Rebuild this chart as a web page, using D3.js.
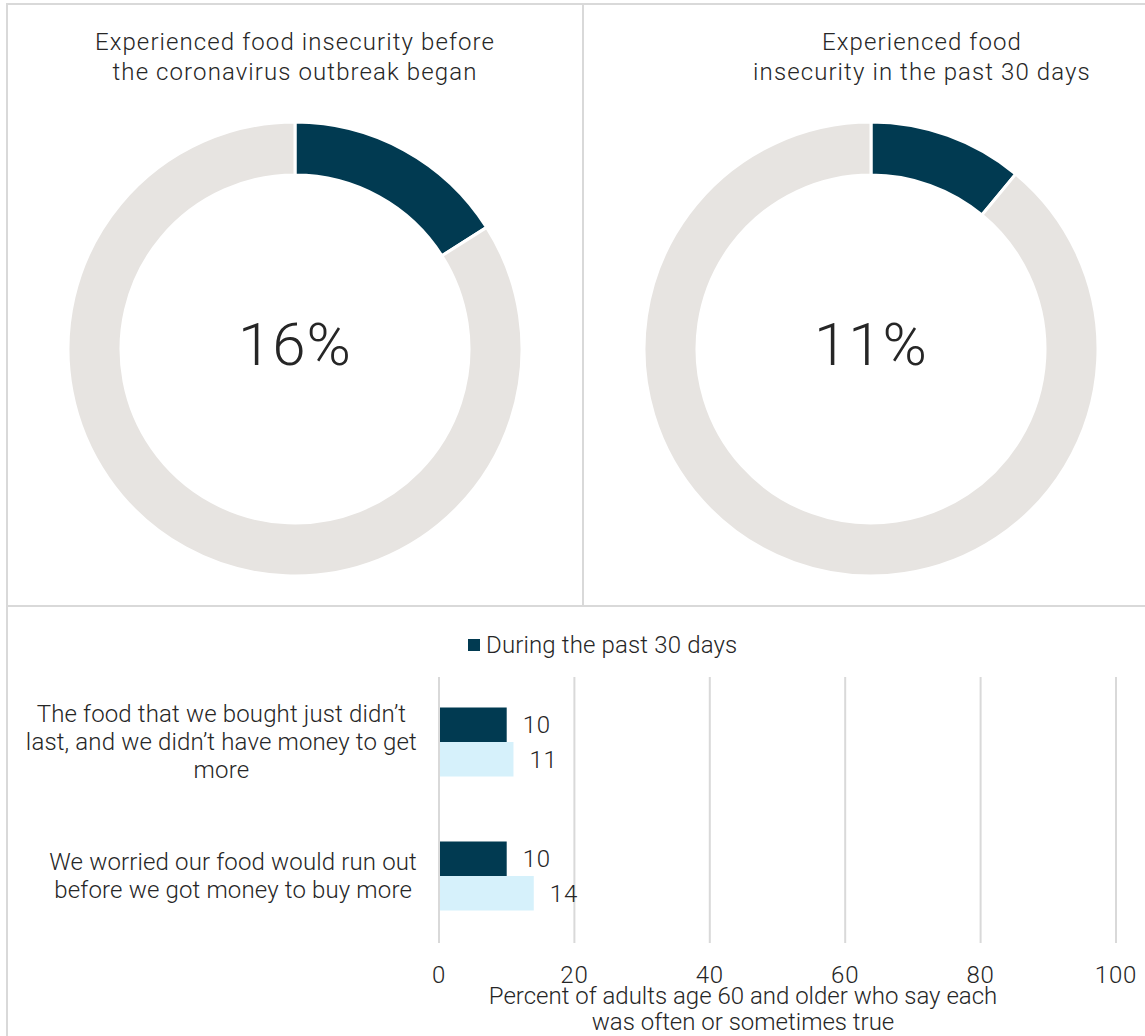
<!DOCTYPE html>
<html>
<head>
<meta charset="utf-8">
<script src="https://cdn.jsdelivr.net/npm/d3@7"></script>
<style>
  html, body { margin: 0; padding: 0; background: #ffffff; }
  svg { display: block; }
  text { font-family: Roboto, "Noto Sans", sans-serif; fill: #262626; }
</style>
</head>
<body>
<svg id="chart" width="1145" height="1036"></svg>
<script>
// ---- data ----
const donutTitles = [
  ["Experienced food insecurity before", "the coronavirus outbreak began"],
  ["Experienced food", "insecurity in the past 30 days"]
];
const donutValues = [16, 11];

const categoryLines = [
  ["The food that we bought just didn\u2019t", "last, and we didn\u2019t have money to get", "more"],
  ["We worried our food would run out", "before we got money to buy more"]
];
const seriesNames = ["During the past 30 days", "Before the coronavirus outbreak began"];
const pastMonth = [10, 10];
const beforeOutbreak = [11, 14];
const xTicks = [0, 20, 40, 60, 80, 100];
const axisTitleLines = ["Percent of adults age 60 and older who say each", "was often or sometimes true"];

// ---- styles ----
const DARK = "#013a51";
const LIGHT = "#d6f1fb";
const GREY = "#e7e4e1";
const RULE = "#d9d9d9";
const FONT = 24;

const svg = d3.select("#chart");

// ---- panel frame ----
const frame = svg.append("g").attr("stroke", RULE).attr("stroke-width", 2);
frame.append("line").attr("x1", 7).attr("x2", 7).attr("y1", 3).attr("y2", 1036);
frame.append("line").attr("x1", 6).attr("x2", 1145).attr("y1", 4).attr("y2", 4);
frame.append("line").attr("x1", 583).attr("x2", 583).attr("y1", 4).attr("y2", 606);
frame.append("line").attr("x1", 6).attr("x2", 1145).attr("y1", 606).attr("y2", 606);

// ---- donuts ----
const donutCenters = [[295, 349], [871, 349]];
const titleCenters = [295, 922];
const pie = d3.pie().sort(null);
const arc = d3.arc().innerRadius(174).outerRadius(227);

donutValues.forEach((v, i) => {
  const g = svg.append("g").attr("transform", `translate(${donutCenters[i]})`);
  g.selectAll("path")
    .data(pie([v, 100 - v]))
    .join("path")
    .attr("d", arc)
    .attr("fill", (d, j) => j === 0 ? DARK : GREY)
    .attr("stroke", "#ffffff")
    .attr("stroke-width", 3);
  g.append("text")
    .attr("text-anchor", "middle")
    .attr("y", 16)
    .attr("font-size", 60)
    .attr("font-weight", 300)
    .attr("letter-spacing", 1)
    .text(`${v}%`);

  const t = svg.append("text")
    .attr("text-anchor", "middle")
    .attr("font-size", FONT)
    .attr("font-weight", 300)
    .attr("letter-spacing", 1.1);
  donutTitles[i].forEach((line, k) => {
    t.append("tspan").attr("x", titleCenters[i]).attr("y", 50 + k * 30).text(line);
  });
});

// ---- bar chart ----
const x = d3.scaleLinear().domain([0, 100]).range([439, 1116]);
const y = d3.scaleBand().domain(d3.range(categoryLines.length)).range([675, 943]);
const barH = 34.5;

// gridlines
svg.append("g")
  .selectAll("line")
  .data(xTicks)
  .join("line")
  .attr("x1", d => x(d)).attr("x2", d => x(d))
  .attr("y1", 677).attr("y2", 943)
  .attr("stroke", RULE).attr("stroke-width", 2);

// tick labels
svg.append("g")
  .selectAll("text")
  .data(xTicks)
  .join("text")
  .attr("x", d => x(d))
  .attr("y", 983)
  .attr("text-anchor", "middle")
  .attr("font-size", FONT)
  .attr("font-weight", 300)
  .attr("letter-spacing", 0.8)
  .text(d => d);

// bars
const series = [pastMonth, beforeOutbreak];
const seriesColors = [DARK, LIGHT];
series.forEach((vals, s) => {
  const g = svg.append("g");
  g.selectAll("rect")
    .data(vals)
    .join("rect")
    .attr("x", x(0) + 1)
    .attr("y", (d, i) => y(i) + y.bandwidth() / 2 - barH + s * barH)
    .attr("width", d => x(d) - x(0) - 1)
    .attr("height", barH)
    .attr("fill", seriesColors[s]);
  g.selectAll("text")
    .data(vals)
    .join("text")
    .attr("x", d => x(d) + 16)
    .attr("y", (d, i) => y(i) + y.bandwidth() / 2 - barH / 2 + s * barH)
    .attr("dy", "0.35em")
    .attr("font-size", FONT)
    .attr("font-weight", 300)
    .attr("letter-spacing", 0.8)
    .text(d => d);
});

// category labels: block right-aligned, lines centred within the block
categoryLines.forEach((lines, i) => {
  const t = svg.append("text")
    .attr("font-size", FONT)
    .attr("font-weight", 300)
    .attr("letter-spacing", 0.15)
    .attr("text-anchor", "middle");
  const spans = lines.map(l => t.append("tspan").text(l));
  const widths = spans.map(sp => sp.node().getComputedTextLength());
  const w = d3.max(widths);
  const cx = 417 - w / 2;
  const cy = y(i) + y.bandwidth() / 2;
  const lh = 28;
  spans.forEach((sp, k) => {
    sp.attr("x", cx)
      .attr("y", cy + (k - (lines.length - 1) / 2) * lh)
      .attr("dy", "0.35em");
  });
});

// legend (first series only)
const lg = svg.append("g").attr("transform", "translate(468,639)");
lg.append("rect").attr("width", 12).attr("height", 12).attr("fill", DARK);
lg.append("text")
  .attr("x", 18).attr("y", 6).attr("dy", "0.35em")
  .attr("font-size", FONT)
  .attr("font-weight", 300)
  .attr("letter-spacing", 0.15)
  .text(seriesNames[0]);

// axis title
const at = svg.append("text")
  .attr("text-anchor", "middle")
  .attr("font-size", FONT)
  .attr("font-weight", 300);
axisTitleLines.forEach((line, k) => {
  at.append("tspan").attr("x", 743).attr("y", 1004 + k * 26).text(line);
});
</script>
</body>
</html>
